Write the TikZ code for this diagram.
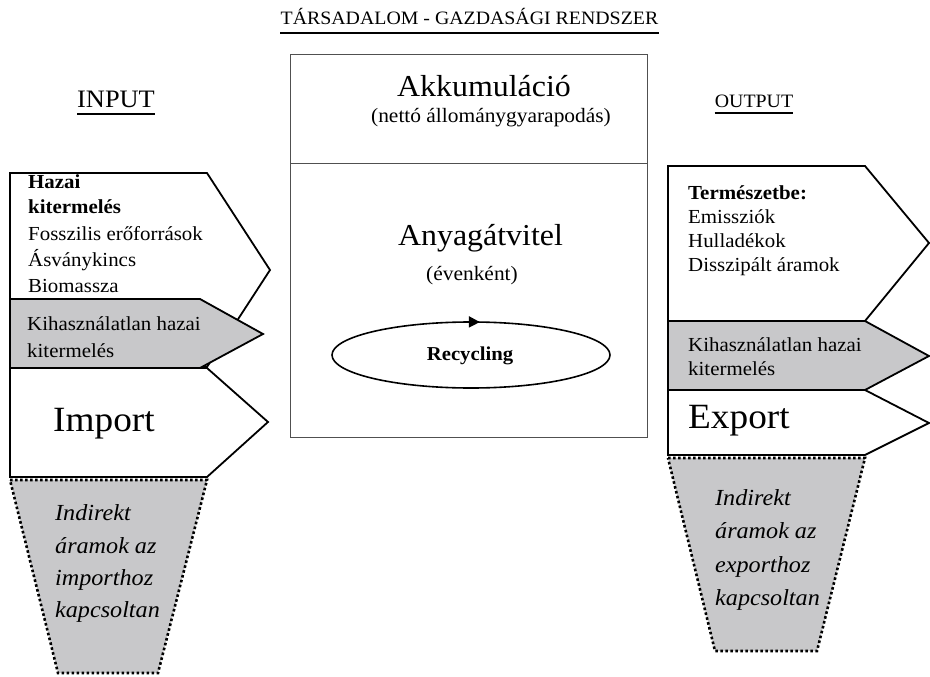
\documentclass[tikz,border=0pt]{standalone}
\usepackage{fontspec}
\setmainfont{Liberation Serif}[FakeStretch=1.05]
\usetikzlibrary{arrows.meta,decorations.markings}
\definecolor{boxgray}{RGB}{200,200,202}
\definecolor{framegray}{RGB}{80,80,80}
\tikzset{
  arrowshape/.style={draw=black, line width=1.8pt, line join=miter, fill=white},
  grayshape/.style={arrowshape, fill=boxgray},
  indirect/.style={draw=black, fill=boxgray, line width=2.6pt, dash pattern=on 2.6pt off 2.4pt},
  frame/.style={draw=framegray, line width=1pt},
  txt/.style={inner sep=0pt, anchor=base west, font=\fontsize{19.9}{23}\selectfont},
  txtb/.style={inner sep=0pt, anchor=base west, font=\fontsize{19.9}{23}\selectfont\bfseries},
  big/.style={inner sep=0pt, anchor=base west, font=\fontsize{35.5}{40}\selectfont},
  ital/.style={inner sep=0pt, anchor=base west, font=\fontsize{23}{27}\selectfont\itshape},
  ctr/.style={inner sep=0pt, anchor=base},
  uline/.style={line width=1.6pt},
  recyc/.style={line width=1.6pt, postaction={decorate}, decoration={markings, mark=at position 0.765 with {\arrow{Triangle[length=11pt,width=11pt]}}}},
}
\begin{document}
\begin{tikzpicture}[x=1pt,y=-1pt]
\useasboundingbox (0,0) rectangle (930,677);
% title
\node[ctr, font=\fontsize{18.9}{22}\selectfont] (title) at (469.5,25) {TÁRSADALOM - GAZDASÁGI RENDSZER};
\draw[uline] ([yshift=-8pt]title.base west) -- ([yshift=-8pt]title.base east);
\node[ctr, font=\fontsize{25.1}{29}\selectfont] (in) at (116,108) {INPUT};
\draw[uline] ([yshift=-6pt]in.base west) -- ([yshift=-6pt]in.base east);
\node[ctr, font=\fontsize{18.9}{22}\selectfont] (out) at (754,108) {OUTPUT};
\draw[uline] ([yshift=-5pt]out.base west) -- ([yshift=-5pt]out.base east);
% centre box
\draw[frame] (290,55) rectangle (647,437);
\draw[frame] (290,163) -- (647,163);
\node[ctr, font=\fontsize{30.4}{35}\selectfont] (akk) at (484,97) {Akkumuláció};
\node[ctr, font=\fontsize{20.4}{24}\selectfont] (netto) at (491,123) {(nettó állománygyarapodás)};
\node[ctr, font=\fontsize{30.4}{35}\selectfont] (anyag) at (480.5,245) {Anyagátvitel};
\node[ctr, font=\fontsize{20.4}{24}\selectfont] (even) at (472,280) {(évenként)};
\draw[recyc] (471,355) ellipse [x radius=139, y radius=33];
\node[ctr, font=\fontsize{19.7}{23}\selectfont\bfseries] (rec) at (470,360) {Recycling};
% left side
\draw[arrowshape] (10,173) -- (207,173) -- (270,270) -- (207,367) -- (10,367) -- cycle;
\draw[grayshape] (10,299) -- (200,299) -- (263,334) -- (200,368) -- (10,368) -- cycle;
\draw[arrowshape] (10,368) -- (207,368) -- (268,422) -- (207,477) -- (10,477) -- cycle;
\draw[indirect] (10,480) -- (207,480) -- (158,673) -- (58,673) -- cycle;
\node[txtb] (h1) at (28,188) {Hazai};
\node[txtb] (h2) at (28,213) {kitermelés};
\node[txt] (h3) at (28,240) {Fosszilis erőforrások};
\node[txt] (h4) at (28,266) {Ásványkincs};
\node[txt] (h5) at (28,292) {Biomassza};
\node[txt] (k1) at (27,330) {Kihasználatlan hazai};
\node[txt] (k2) at (27,357) {kitermelés};
\node[big] (imp) at (53,431) {Import};
\node[ital] (i1) at (55,520) {Indirekt};
\node[ital] (i2) at (55,553) {áramok az};
\node[ital] (i3) at (55,585) {importhoz};
\node[ital] (i4) at (55,617) {kapcsoltan};
% right side
\draw[arrowshape] (668,166) -- (865,166) -- (929,243) -- (865,321) -- (668,321) -- cycle;
\draw[grayshape] (668,321) -- (865,321) -- (929,356) -- (865,390) -- (668,390) -- cycle;
\draw[arrowshape] (668,390) -- (865,390) -- (929,423) -- (865,455) -- (668,455) -- cycle;
\draw[indirect] (668,458) -- (865,458) -- (817,651) -- (715,651) -- cycle;
\node[txtb] (t1) at (688,199) {Természetbe:};
\node[txt] (t2) at (688,223) {Emissziók};
\node[txt] (t3) at (688,247) {Hulladékok};
\node[txt] (t4) at (688,271) {Disszipált áramok};
\node[txt] (r1) at (688,351) {Kihasználatlan hazai};
\node[txt] (r2) at (688,375) {kitermelés};
\node[big] (exp) at (688,428) {Export};
\node[ital] (e1) at (715,505) {Indirekt};
\node[ital] (e2) at (715,538) {áramok az};
\node[ital] (e3) at (715,572) {exporthoz};
\node[ital] (e4) at (715,605) {kapcsoltan};
\end{tikzpicture}
\end{document}
